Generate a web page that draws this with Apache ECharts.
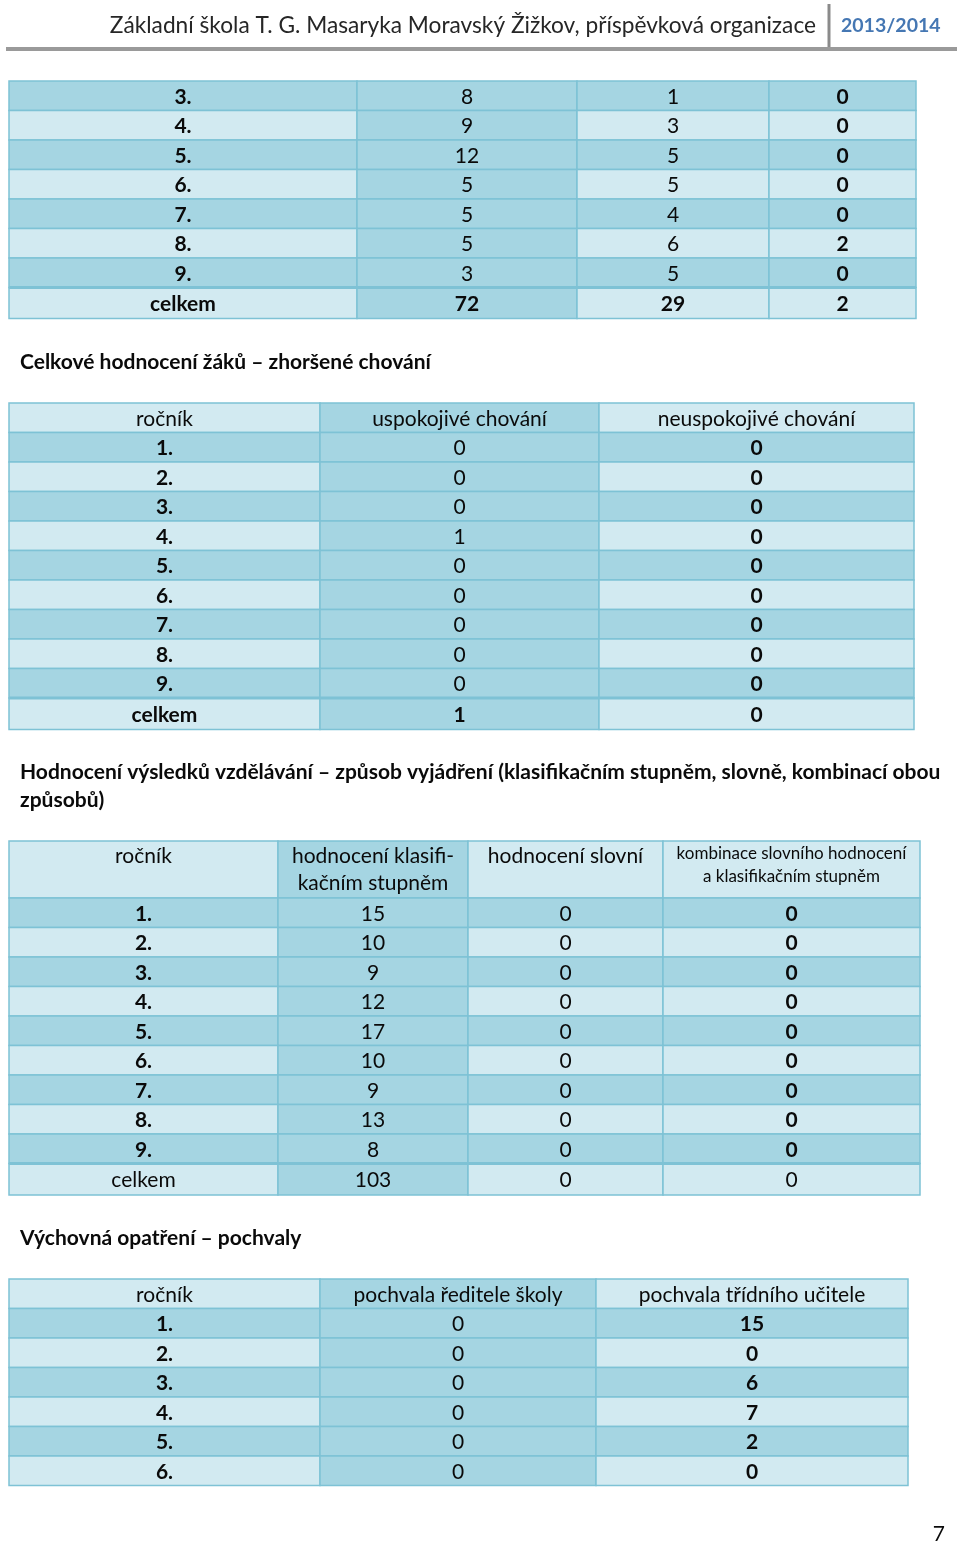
<!DOCTYPE html>
<html><head><meta charset="utf-8">
<script src="https://cdn.jsdelivr.net/npm/echarts@6/dist/echarts.min.js"></script>
<style>html,body{margin:0;padding:0;background:#fff}#c{width:960px;height:1543px}</style>
</head><body><div id="c"></div>
<script>
// ---------------- DATA ----------------
const headerText = 'Základní škola T. G. Masaryka Moravský Žižkov, příspěvková organizace';
const headerYear = '2013/2014';
const pageNumber = '7';
const title2 = 'Celkové hodnocení žáků – zhoršené chování';
const title3 = 'Hodnocení výsledků vzdělávání – způsob vyjádření (klasifikačním stupněm, slovně, kombinací obou\nzpůsobů)';
const title4 = 'Výchovná opatření – pochvaly';

// table 1 (continuation from previous page)
const t1Rows = ['3.', '4.', '5.', '6.', '7.', '8.', '9.', 'celkem'];
const t1ColB = [8, 9, 12, 5, 5, 5, 3, 72];
const t1ColC = [1, 3, 5, 5, 4, 6, 5, 29];
const t1ColD = [0, 0, 0, 0, 0, 2, 0, 2];

// table 2
const t2Header = ['ročník', 'uspokojivé chování', 'neuspokojivé chování'];
const t2Rows = ['1.', '2.', '3.', '4.', '5.', '6.', '7.', '8.', '9.', 'celkem'];
const t2Uspokojive = [0, 0, 0, 1, 0, 0, 0, 0, 0, 1];
const t2Neuspokojive = [0, 0, 0, 0, 0, 0, 0, 0, 0, 0];

// table 3
const t3Header = ['ročník', 'hodnocení klasifi-\nkačním stupněm', 'hodnocení slovní', 'kombinace slovního hodnocení\na klasifikačním stupněm'];
const t3Rows = ['1.', '2.', '3.', '4.', '5.', '6.', '7.', '8.', '9.', 'celkem'];
const t3Klasifikacni = [15, 10, 9, 12, 17, 10, 9, 13, 8, 103];
const t3Slovni = [0, 0, 0, 0, 0, 0, 0, 0, 0, 0];
const t3Kombinace = [0, 0, 0, 0, 0, 0, 0, 0, 0, 0];

// table 4
const t4Header = ['ročník', 'pochvala ředitele školy', 'pochvala třídního učitele'];
const t4Rows = ['1.', '2.', '3.', '4.', '5.', '6.'];
const t4Reditel = [0, 0, 0, 0, 0, 0];
const t4Tridni = [15, 0, 6, 7, 2, 0];

// ---------------- LAYOUT / STYLE ----------------
const FONT = 'Lato';
const DARK = '#A5D5E2', LIGHT = '#D2EAF1', BORDER = '#7EC2D5';
const RH = 29.5;

const tables = [
  { top: 81, colW: [348, 220, 192, 147], headerH: 0, rowH: RH, totalH: 31,
    header: null, rows: t1Rows, cols: [t1ColB, t1ColC, t1ColD],
    bold: [true, false, false, true], totalBold: true },
  { top: 403, colW: [311, 279, 315], headerH: RH, rowH: RH, totalH: 31.5,
    header: t2Header, rows: t2Rows, cols: [t2Uspokojive, t2Neuspokojive],
    bold: [true, false, true], totalBold: true },
  { top: 841, colW: [269, 190, 195, 257], headerH: 57, rowH: RH, totalH: 31.5,
    header: t3Header, rows: t3Rows, cols: [t3Klasifikacni, t3Slovni, t3Kombinace],
    bold: [true, false, false, true], totalBold: false, headerTop: true, smallHeaderCol: 3 },
  { top: 1279, colW: [311, 276, 312], headerH: RH, rowH: RH, totalH: RH,
    header: t4Header, rows: t4Rows, cols: [t4Reditel, t4Tridni],
    bold: [true, false, true], totalBold: null }
];

const grids = [], xAxes = [], yAxes = [], series = [];
tables.forEach((t, ti) => {
  const colEdges = [0];
  t.colW.forEach(w => colEdges.push(colEdges[colEdges.length - 1] + w));
  const rowEdges = [0];
  if (t.header) rowEdges.push(t.headerH);
  t.rows.forEach(r => {
    const h = (r === 'celkem') ? t.totalH : t.rowH;
    rowEdges.push(rowEdges[rowEdges.length - 1] + h);
  });
  const W = colEdges[colEdges.length - 1], H = rowEdges[rowEdges.length - 1];
  grids.push({ left: 9, top: t.top, width: W, height: H, show: false });
  xAxes.push({ type: 'value', gridIndex: ti, min: 0, max: W, show: false });
  yAxes.push({ type: 'value', gridIndex: ti, min: 0, max: H, inverse: true, show: false });

  const cells = [], meta = [];
  let r0 = 0;
  if (t.header) {
    t.header.forEach((txt, c) => {
      cells.push([colEdges[c], rowEdges[0], colEdges[c + 1], rowEdges[1]]);
      meta.push({ text: txt, dark: c === 1, bold: false, header: true, col: c });
    });
    r0 = 1;
  }
  t.rows.forEach((rl, i) => {
    const isTotal = rl === 'celkem';
    const vals = [rl].concat(t.cols.map(col => col[i]));
    vals.forEach((v, c) => {
      cells.push([colEdges[c], rowEdges[r0 + i], colEdges[c + 1], rowEdges[r0 + i + 1]]);
      let b = t.bold[c];
      if (isTotal && t.totalBold !== null) b = t.totalBold;
      meta.push({ text: String(v), dark: (i % 2 === 0) || c === 1, bold: b, total: isTotal, col: c });
    });
  });

  series.push({
    type: 'custom', xAxisIndex: ti, yAxisIndex: ti, clip: false, silent: true,
    data: cells,
    renderItem: function (params, api) {
      const m = meta[params.dataIndex];
      const p0 = api.coord([api.value(0), api.value(1)]);
      const p1 = api.coord([api.value(2), api.value(3)]);
      const w = p1[0] - p0[0], h = p1[1] - p0[1];
      const children = [{
        type: 'rect', shape: { x: p0[0], y: p0[1], width: w, height: h },
        style: { fill: m.dark ? DARK : LIGHT, stroke: BORDER, lineWidth: 1.5 }
      }];
      if (m.total) {
        children.push({ type: 'line', shape: { x1: p0[0], y1: p0[1], x2: p1[0], y2: p0[1] },
          style: { stroke: BORDER, lineWidth: 3 } });
      }
      const small = m.header && t.smallHeaderCol === m.col;
      const topAlign = m.header && t.headerTop;
      children.push({
        type: 'text',
        style: {
          text: m.text,
          x: p0[0] + w / 2,
          y: topAlign ? p0[1] + (small ? 1 : 2) : p0[1] + h / 2 + 1,
          align: 'center',
          verticalAlign: topAlign ? 'top' : 'middle',
          fontFamily: FONT,
          fontSize: small ? 17 : 21,
          lineHeight: small ? 23 : 27,
          fontWeight: m.bold ? 'bold' : 'normal',
          fill: '#0a0a0a'
        }
      });
      return { type: 'group', children: children };
    }
  });
});

const chart = echarts.init(document.getElementById('c'), null, { renderer: 'canvas' });
chart.setOption({
  animation: false,
  backgroundColor: '#fff',
  grid: grids, xAxis: xAxes, yAxis: yAxes, series: series,
  graphic: [
    { type: 'text', style: { text: headerText, x: 816, y: 26, align: 'right', verticalAlign: 'middle',
        fontFamily: FONT, fontSize: 22.7, fill: '#262626' } },
    { type: 'line', shape: { x1: 829, y1: 4, x2: 829, y2: 48 }, style: { stroke: '#8a8a8a', lineWidth: 3 } },
    { type: 'text', style: { text: headerYear, x: 841, y: 26, align: 'left', verticalAlign: 'middle',
        fontFamily: FONT, fontSize: 19.5, fontWeight: 'bold', fill: '#4577B3' } },
    { type: 'line', shape: { x1: 6, y1: 49, x2: 957, y2: 49 }, style: { stroke: '#9a9a9a', lineWidth: 4 } },
    { type: 'text', style: { text: title2, x: 20, y: 362, verticalAlign: 'middle',
        fontFamily: FONT, fontSize: 21, fontWeight: 'bold', fill: '#0a0a0a' } },
    { type: 'text', style: { text: title3, x: 20, y: 758, verticalAlign: 'top', lineHeight: 28,
        fontFamily: FONT, fontSize: 21, fontWeight: 'bold', fill: '#0a0a0a' } },
    { type: 'text', style: { text: title4, x: 20, y: 1238, verticalAlign: 'middle',
        fontFamily: FONT, fontSize: 21, fontWeight: 'bold', fill: '#0a0a0a' } },
    { type: 'text', style: { text: pageNumber, x: 945, y: 1534, align: 'right', verticalAlign: 'middle',
        fontFamily: FONT, fontSize: 21, fill: '#0a0a0a' } }
  ]
});
</script></body></html>
